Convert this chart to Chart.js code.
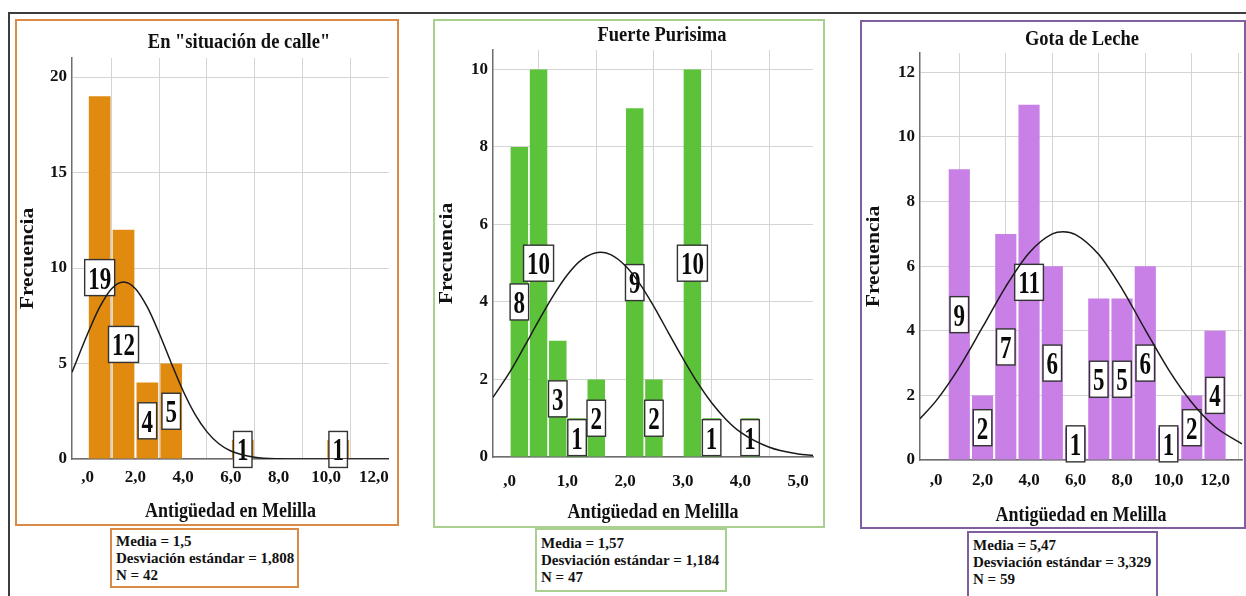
<!DOCTYPE html>
<html>
<head>
<meta charset="utf-8">
<script src="https://cdn.jsdelivr.net/npm/chart.js@4"></script>
<style>
  body { margin: 0; background: #fff; width: 1246px; height: 596px; overflow: hidden; position: relative; }
  .marco { position: absolute; left: 8px; top: 12px; width: 1250px; height: 600px; border-left: 2px solid #3c3c3c; border-top: 2px solid #3c3c3c; }
  .panel { position: absolute; box-sizing: border-box; border: 2px solid; background: #fff; }
  .panel canvas { position: absolute; left: 0; top: 0; }
  .stats { position: absolute; box-sizing: border-box; border: 2px solid; background: #fff; color: #111;
           font: bold 15px "Liberation Serif", serif; line-height: 17px; padding-left: 4px; white-space: nowrap; }
</style>
</head>
<body>
<div class="marco"></div>

<script>
// --- datos: En "situación de calle" ---
const calleCentros = [0.5, 1.5, 2.5, 3.5, 6.5, 10.5];
const calleFrec = [19, 12, 4, 5, 1, 1];
const calleCurvaX = [-0.66, 0, 0.5, 1, 1.5, 2, 2.5, 3, 3.5, 4, 4.5, 5, 5.5, 6, 7, 8, 9, 12.63];
const calleCurvaY = [4.54, 6.57, 7.95, 8.92, 9.27, 8.92, 7.95, 6.57, 5.03, 3.56, 2.34, 1.42, 0.80, 0.42, 0.09, 0.01, 0, 0];
const calleTicksX = [0, 2, 4, 6, 8, 10, 12];
const calleEtiqX = [',0', '2,0', '4,0', '6,0', '8,0', '10,0', '12,0'];
const calleTicksY = [0, 5, 10, 15, 20];
const calleStats = ['Media = 1,5', 'Desviación estándar = 1,808', 'N = 42'];

// --- datos: Fuerte Purisima ---
const fuerteCentros = [0.167, 0.5, 0.833, 1.167, 1.5, 2.167, 2.5, 3.167, 3.5, 4.167];
const fuerteFrec = [8, 10, 3, 1, 2, 9, 2, 10, 1, 1];
const fuerteCurvaX = [-0.29, 0, 0.25, 0.5, 0.75, 1, 1.25, 1.57, 1.75, 2, 2.25, 2.5, 2.75, 3, 3.25, 3.5, 3.75, 4, 4.5, 5, 5.26];
const fuerteCurvaY = [1.54, 2.19, 2.84, 3.51, 4.15, 4.70, 5.09, 5.28, 5.22, 4.94, 4.48, 3.88, 3.21, 2.55, 1.93, 1.40, 0.97, 0.64, 0.25, 0.08, 0.04];
const fuerteTicksX = [0, 1, 2, 3, 4, 5];
const fuerteEtiqX = [',0', '1,0', '2,0', '3,0', '4,0', '5,0'];
const fuerteTicksY = [0, 2, 4, 6, 8, 10];
const fuerteStats = ['Media = 1,57', 'Desviación estándar = 1,184', 'N = 47'];

// --- datos: Gota de Leche ---
const gotaCentros = [1, 2, 3, 4, 5, 6, 7, 8, 9, 10, 11, 12];
const gotaFrec = [9, 2, 7, 11, 6, 1, 5, 5, 6, 1, 2, 4];
const gotaCurvaX = [-0.69, 0, 1, 2, 3, 4, 5, 5.47, 6, 7, 8, 9, 10, 11, 12, 13.16];
const gotaCurvaY = [1.28, 1.83, 2.87, 4.11, 5.37, 6.41, 7.00, 7.07, 6.98, 6.36, 5.30, 4.03, 2.80, 1.78, 1.03, 0.50];
const gotaTicksX = [0, 2, 4, 6, 8, 10, 12];
const gotaEtiqX = [',0', '2,0', '4,0', '6,0', '8,0', '10,0', '12,0'];
const gotaTicksY = [0, 2, 4, 6, 8, 10, 12];
const gotaStats = ['Media = 5,47', 'Desviación estándar = 3,329', 'N = 59'];

const FUENTE = '"Liberation Serif", "Times New Roman", serif';

function texto(c, t, x, y, size, estirar, girar) {
  c.save();
  c.translate(x, y);
  if (girar) { c.rotate(-Math.PI / 2); c.scale(estirar, 1); } else { c.scale(1, estirar); }
  c.font = `bold ${size}px ${FUENTE}`;
  c.fillStyle = '#111';
  c.textAlign = 'center';
  c.textBaseline = 'middle';
  c.fillText(t, 0, 0);
  c.restore();
}

const rotulos = {
  id: 'rotulos',
  afterDatasetDraw(chart, args) {
    if (args.meta.type !== 'bar') return;
    const c = chart.ctx, ys = chart.scales.y;
    const vals = chart.data.datasets[args.index].data;
    c.save();
    c.font = `bold 23px ${FUENTE}`;
    args.meta.data.forEach((bar, i) => {
      const v = vals[i].y, t = String(v);
      const w = c.measureText(t).width + 7, h = 36;
      const cx = bar.x, cy = ys.getPixelForValue(v / 2);
      c.fillStyle = '#fff';
      c.fillRect(cx - w / 2, cy - h / 2, w, h);
      c.strokeStyle = '#333';
      c.lineWidth = 1.4;
      c.strokeRect(cx - w / 2, cy - h / 2, w, h);
      c.save();
      c.translate(cx, cy);
      c.scale(1, 1.4);
      c.fillStyle = '#0a0a0a';
      c.textAlign = 'center';
      c.textBaseline = 'alphabetic';
      c.fillText(t, 0, 7.8);
      c.restore();
    });
    c.restore();
  },
  afterDraw(chart) {
    const p = chart.options.plugins.rotulos;
    const a = chart.chartArea, c = chart.ctx;
    texto(c, p.titulo, p.tituloX, p.tituloY, 18.5, 1.15, false);
    texto(c, 'Antigüedad en Melilla', (a.left + a.right) / 2, p.ejeXY, 18, 1.15, false);
    texto(c, 'Frecuencia', p.ejeYX, (a.top + a.bottom) / 2, 18, 1.2, true);
  }
};

function histograma(p) {
  const panel = document.createElement('div');
  panel.className = 'panel';
  Object.assign(panel.style, { left: p.caja[0] + 'px', top: p.caja[1] + 'px', width: p.caja[2] + 'px', height: p.caja[3] + 'px', borderColor: p.borde });
  const canvas = document.createElement('canvas');
  const W = p.caja[2] - 4, H = p.caja[3] - 4;
  canvas.width = W; canvas.height = H;
  panel.appendChild(canvas);
  document.body.appendChild(panel);

  const ox = p.caja[0] + 2, oy = p.caja[1] + 2;
  const izq = p.area[0] - ox, arr = p.area[1] - oy, der = p.area[2] - ox, abj = p.area[3] - oy;

  const stats = document.createElement('div');
  stats.className = 'stats';
  Object.assign(stats.style, { left: p.st[0] + 'px', top: p.st[1] + 'px', width: p.st[2] + 'px', height: p.st[3] + 'px', borderColor: p.borde, paddingTop: p.st[4] + 'px' });
  stats.innerHTML = p.stats.join('<br>');
  document.body.appendChild(stats);

  const fuenteTick = { family: FUENTE, size: 17, weight: 'bold' };
  new Chart(canvas.getContext('2d'), {
    type: 'bar',
    data: {
      datasets: [
        {
          type: 'line',
          data: p.curvaX.map((x, i) => ({ x, y: p.curvaY[i] })),
          borderColor: '#1a1a1a', borderWidth: 1.5, pointRadius: 0,
          cubicInterpolationMode: 'monotone', fill: false, order: 1
        },
        {
          type: 'bar',
          data: p.centros.map((x, i) => ({ x, y: p.frec[i] })),
          backgroundColor: p.color, barPercentage: 0.91, categoryPercentage: 1, order: 2
        }
      ]
    },
    options: {
      responsive: false,
      animation: false,
      layout: { padding: { left: 0, top: arr, right: W - der, bottom: 0 } },
      plugins: {
        legend: { display: false },
        tooltip: { enabled: false },
        rotulos: { titulo: p.titulo, tituloX: p.tituloX - ox, tituloY: p.tituloY - oy, ejeXY: p.ejeXY - oy, ejeYX: p.ejeYX - ox }
      },
      scales: {
        x: {
          type: 'linear', min: p.xMin, max: p.xMax, offset: false,
          grid: { color: '#d4d4d4', lineWidth: 1, drawTicks: false },
          border: { color: '#6e6e6e', width: 1.5 },
          afterBuildTicks: s => { s.ticks = p.ticksX.map(v => ({ value: v })); },
          afterFit: s => { s.height = H - abj; },
          ticks: { padding: p.padX, color: '#111', font: fuenteTick, maxRotation: 0, autoSkip: false, callback: (v, i) => p.etiqX[i] }
        },
        y: {
          min: 0, max: p.yMax,
          grid: { color: '#d4d4d4', lineWidth: 1, drawTicks: false },
          border: { color: '#6e6e6e', width: 1.5 },
          afterBuildTicks: s => { s.ticks = p.ticksY.map(v => ({ value: v })); },
          afterFit: s => { s.width = izq; },
          ticks: { padding: 5, color: '#111', font: fuenteTick, autoSkip: false, callback: (v, i) => String(p.ticksY[i]) }
        }
      }
    },
    plugins: [rotulos]
  });
}

histograma({
  titulo: 'En "situación de calle"', color: '#e08a10', borde: '#d98a44',
  caja: [15, 19, 384, 507], area: [72, 58, 393, 459], tituloX: 239, tituloY: 43, ejeXY: 512, ejeYX: 28, padX: 8,
  st: [110, 528, 189, 60, 3],
  centros: calleCentros, frec: calleFrec, curvaX: calleCurvaX, curvaY: calleCurvaY,
  ticksX: calleTicksX, etiqX: calleEtiqX, ticksY: calleTicksY, stats: calleStats,
  xMin: -0.66, xMax: 12.63, yMax: 21
});

histograma({
  titulo: 'Fuerte Purisima', color: '#5cc23a', borde: '#a9d08e',
  caja: [433, 19, 392, 509], area: [493, 50, 818, 457], tituloX: 662, tituloY: 36, ejeXY: 513, ejeYX: 447, padX: 14,
  st: [535, 528, 192, 64, 5],
  centros: fuerteCentros, frec: fuerteFrec, curvaX: fuerteCurvaX, curvaY: fuerteCurvaY,
  ticksX: fuerteTicksX, etiqX: fuerteEtiqX, ticksY: fuerteTicksY, stats: fuerteStats,
  xMin: -0.29, xMax: 5.26, yMax: 10.5
});

histograma({
  titulo: 'Gota de Leche', color: '#c87fe6', borde: '#7f5fa0',
  caja: [860, 20, 386, 509], area: [920, 53, 1242, 460], tituloX: 1082, tituloY: 40, ejeXY: 516, ejeYX: 874, padX: 10,
  st: [967, 531, 191, 70, 4],
  centros: gotaCentros, frec: gotaFrec, curvaX: gotaCurvaX, curvaY: gotaCurvaY,
  ticksX: gotaTicksX, etiqX: gotaEtiqX, ticksY: gotaTicksY, stats: gotaStats,
  xMin: -0.69, xMax: 13.16, yMax: 12.6
});
</script>
</body>
</html>
